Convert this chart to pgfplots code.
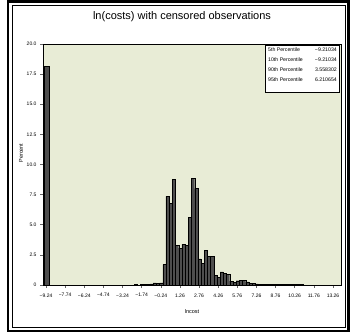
\documentclass[border=0pt]{standalone}
\usepackage{pgfplots}
\pgfplotsset{compat=1.18}
\usepackage{fontspec}
\setmainfont{Liberation Sans}
\definecolor{bgc}{RGB}{232,236,214}
\definecolor{barc}{RGB}{78,78,78}
\begin{document}
\begin{tikzpicture}[x=1pt,y=1pt]
\path[use as bounding box] (0,0) rectangle (350,333);
\draw[line width=2.5pt] (8,2) rectangle (348.5,331.5);
\draw[line width=0.9pt] (12.5,6) rectangle (345,328);
\node[font=\fontsize{11}{13}\selectfont] at (182,316) {ln(costs) with censored observations};
\begin{axis}[
  at={(43pt,48pt)}, anchor=south west,
  width=298pt, height=241pt, scale only axis,
  xmin=-9.475, xmax=13.887, ymin=0, ymax=20,
  axis background/.style={fill=bgc},
  axis line style={black, line width=0.8pt},
  xtick={-9.24,-7.74,-6.24,-4.74,-3.24,-1.74,-0.24,1.26,2.76,4.26,5.76,7.26,8.76,10.26,11.76,13.26},
  xticklabels={−9.24,−7.74,−6.24,−4.74,−3.24,−1.74,−0.24,1.26,2.76,4.26,5.76,7.26,8.76,10.26,11.76,13.26},
  ytick={0,2.5,5,7.5,10,12.5,15,17.5,20},
  yticklabels={0,2.5,5.0,7.5,10.0,12.5,15.0,17.5,20.0},
  tick align=outside, major tick length=3pt,
  tick style={black!60, line width=0.6pt},
  xtick pos=bottom, ytick pos=left,
  ticklabel style={font=\fontsize{5}{6}\selectfont},
  xticklabel style={yshift=-2pt},
  /pgf/number format/assume math mode=true,
]
\addplot[ybar, bar width=0.38, bar shift=0pt, fill=barc, draw=black, line width=0.3pt] coordinates {(-9.21,18.2)};
\addplot[ybar, bar width=0.25, bar shift=0pt, fill=barc, draw=black, line width=0.3pt] coordinates {
(-2.21,0.08)
(-1.71,0.06) (-1.46,0.08) (-1.21,0.08) (-0.96,0.1) (-0.71,0.17) (-0.46,0.15) (-0.21,0.17)
(0.04,1.7) (0.29,7.36) (0.54,6.8) (0.79,8.77) (1.04,3.3) (1.29,3.07) (1.54,3.38) (1.79,3.3)
(2.04,5.6) (2.29,8.85) (2.54,8.0) (2.79,2.16) (3.04,1.8) (3.29,2.88) (3.54,2.4) (3.79,2.4)
(4.04,0.83) (4.29,0.66) (4.54,1.08) (4.79,0.97) (5.04,0.89) (5.29,0.33) (5.54,0.22) (5.79,0.36)
(6.04,0.41) (6.29,0.41) (6.54,0.25) (6.79,0.14) (7.04,0.12) (7.29,0.1) (7.54,0.08) (7.79,0.05)
(8.04,0.05) (8.29,0.04) (8.54,0.04) (8.79,0.04) (9.04,0.04) (9.29,0.03) (9.54,0.03) (9.79,0.03)
(10.04,0.03) (10.29,0.03) (10.54,0.03) (10.79,0.03)
};
\end{axis}
\node[rotate=90, font=\fontsize{5.5}{6}\selectfont] at (21,180) {Percent};
\node[font=\fontsize{5.5}{6}\selectfont] at (192,21) {lncost};
\draw[black, line width=0.5pt, fill=white] (265,241) rectangle (339,288);
\begin{scope}[every node/.style={font=\fontsize{5.2}{6}\selectfont, inner sep=0pt}]
\node[anchor=west] at (268,283) {5th Percentile};
\node[anchor=west] at (268,273) {10th Percentile};
\node[anchor=west] at (268,263) {90th Percentile};
\node[anchor=west] at (268,253) {95th Percentile};
\node[anchor=east] at (337,283) {−9.21034};
\node[anchor=east] at (337,273) {−9.21034};
\node[anchor=east] at (337,263) {3.558302};
\node[anchor=east] at (337,253) {6.210654};
\end{scope}
\end{tikzpicture}
\end{document}
